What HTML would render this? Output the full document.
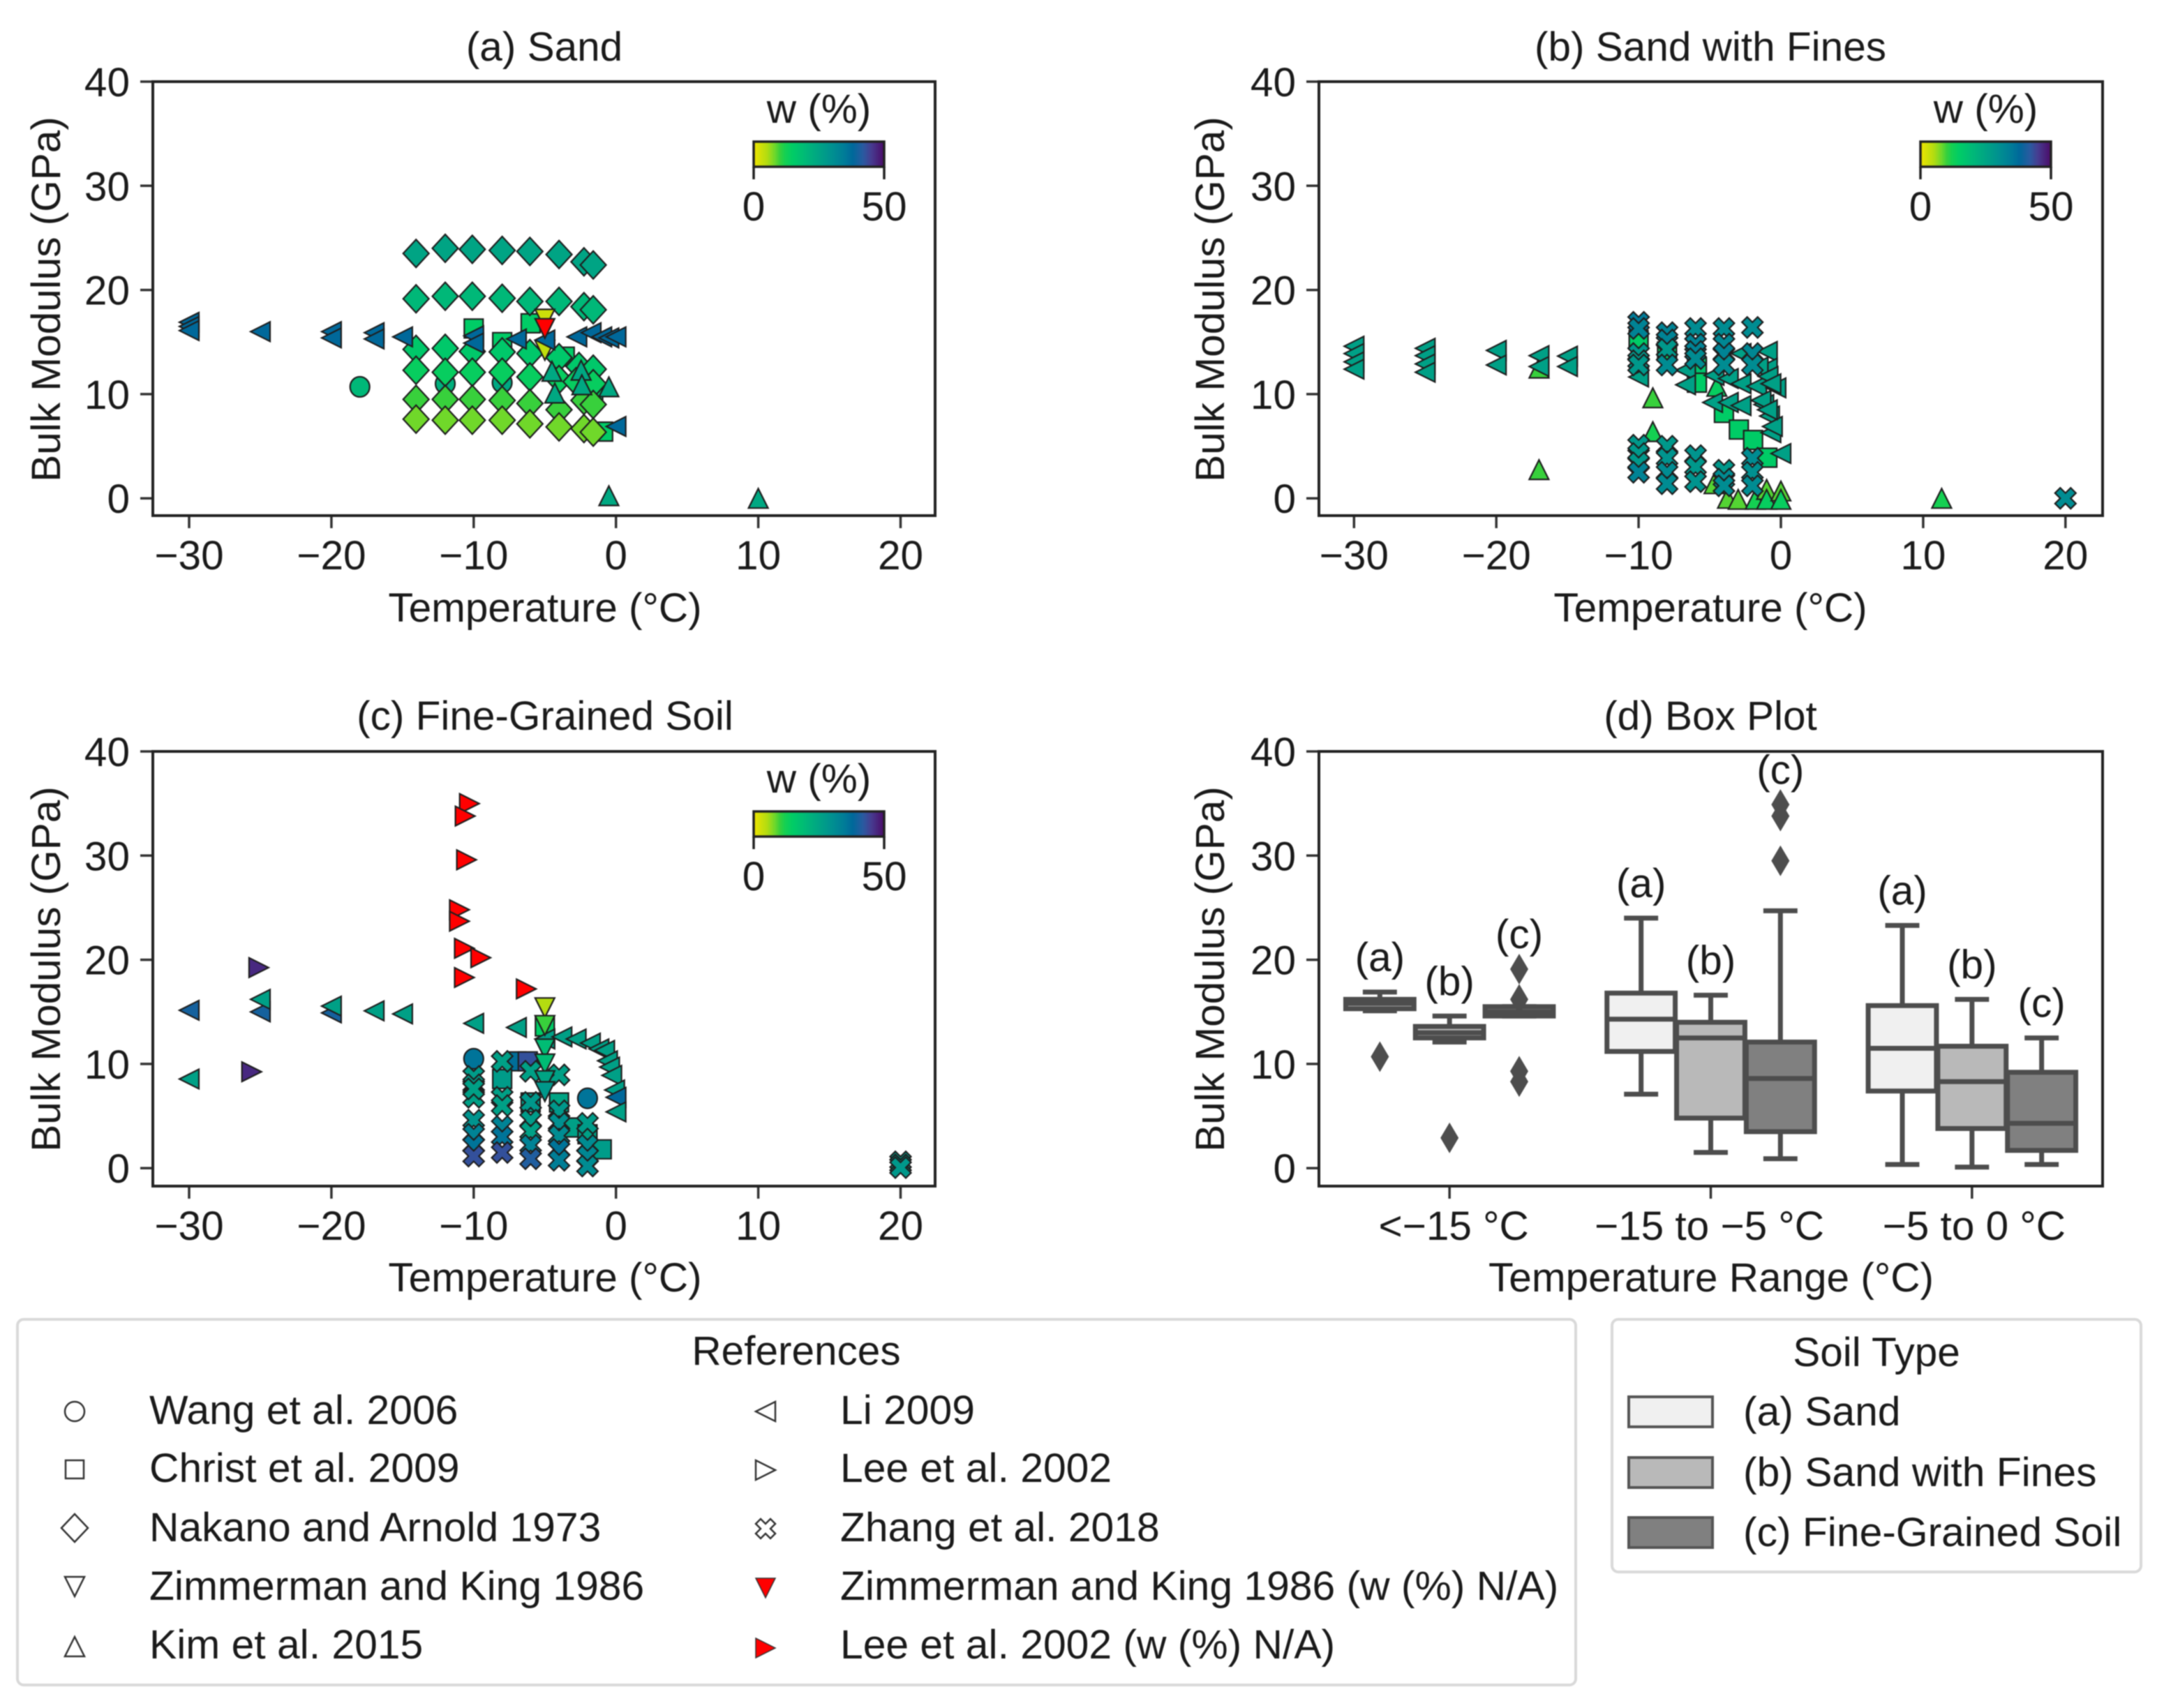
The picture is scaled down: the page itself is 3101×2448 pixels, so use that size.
<!DOCTYPE html>
<html lang="en">
<head>
<meta charset="utf-8">
<title>Bulk modulus versus temperature</title>
<style>
html,body{margin:0;padding:0;background:#fff;}
svg{display:block;filter:blur(0.7px);}
text{font-family:"Liberation Sans",sans-serif;font-size:58.5px;fill:#1a1a1a;}
.legend-text{font-size:58.8px;}
</style>
</head>
<body>
<svg id="figure" width="3101" height="2448" viewBox="0 0 3101 2448" xmlns="http://www.w3.org/2000/svg">
<rect x="0" y="0" width="3101" height="2448" fill="#ffffff"/>

<text x="780" y="87" text-anchor="middle">(a) Sand</text>
<text x="2451" y="87" text-anchor="middle">(b) Sand with Fines</text>
<text x="781" y="1046" text-anchor="middle">(c) Fine-Grained Soil</text>
<text x="2451" y="1046" text-anchor="middle">(d) Box Plot</text>

<text x="781" y="891" text-anchor="middle">Temperature (°C)</text>
<text x="2451" y="891" text-anchor="middle">Temperature (°C)</text>
<text x="781" y="1851" text-anchor="middle">Temperature (°C)</text>
<text x="2452" y="1851" text-anchor="middle">Temperature Range (°C)</text>

<text transform="translate(86,429) rotate(-90)" text-anchor="middle">Bulk Modulus (GPa)</text>
<text transform="translate(1754,429) rotate(-90)" text-anchor="middle">Bulk Modulus (GPa)</text>
<text transform="translate(86,1389) rotate(-90)" text-anchor="middle">Bulk Modulus (GPa)</text>
<text transform="translate(1754,1389) rotate(-90)" text-anchor="middle">Bulk Modulus (GPa)</text>

<g id="plots"></g>

<g>
  <rect x="25" y="1891" width="2233" height="524" rx="9" fill="#ffffff" stroke="#d9d9d9" stroke-width="4"/>
  <text x="1141" y="1956" text-anchor="middle">References</text>
  <g fill="none" stroke="#333333" stroke-width="2.5" transform="translate(0,-6)">
    <circle cx="107" cy="2029" r="14"/>
    <rect x="94" y="2099" width="26" height="26"/>
    <polygon points="107,2176 126,2196 107,2216 88,2196"/>
    <polygon points="93,2266 121,2266 107,2294"/>
    <polygon points="107,2352 121,2380 93,2380"/>
  </g>
  <g fill="none" stroke="#333333" stroke-width="2.5" transform="translate(-4,-6)">
    <polygon points="1087,2029 1115,2015 1115,2043"/>
    <polygon points="1115,2113 1087,2099 1087,2127"/>
    <polygon points="1087,2190 1094,2183 1101,2190 1108,2183 1115,2190 1108,2197 1115,2204 1108,2211 1101,2204 1094,2211 1087,2204 1094,2197"/>
  </g>
  <polygon points="1083,2262 1111,2262 1097,2290" fill="#ff0000" stroke="#333333" stroke-width="1.5"/>
  <polygon points="1111,2362 1083,2348 1083,2376" fill="#ff0000" stroke="#333333" stroke-width="1.5"/>
  <text class="legend-text" x="214" y="2041">Wang et al. 2006</text>
  <text class="legend-text" x="214" y="2124">Christ et al. 2009</text>
  <text class="legend-text" x="214" y="2209">Nakano and Arnold 1973</text>
  <text class="legend-text" x="214" y="2293">Zimmerman and King 1986</text>
  <text class="legend-text" x="214" y="2377">Kim et al. 2015</text>
  <text class="legend-text" x="1204" y="2041">Li 2009</text>
  <text class="legend-text" x="1204" y="2124">Lee et al. 2002</text>
  <text class="legend-text" x="1204" y="2209">Zhang et al. 2018</text>
  <text class="legend-text" x="1204" y="2293">Zimmerman and King 1986 (w (%) N/A)</text>
  <text class="legend-text" x="1204" y="2377">Lee et al. 2002 (w (%) N/A)</text>
</g>

<g>
  <rect x="2310" y="1891" width="758" height="362" rx="9" fill="#ffffff" stroke="#d9d9d9" stroke-width="4"/>
  <text x="2689" y="1958" text-anchor="middle">Soil Type</text>
  <rect x="2334" y="2002" width="120" height="43" fill="#f0f0f0" stroke="#555555" stroke-width="4"/>
  <rect x="2334" y="2089" width="120" height="43" fill="#b9b9b9" stroke="#555555" stroke-width="4"/>
  <rect x="2334" y="2175" width="120" height="43" fill="#808080" stroke="#555555" stroke-width="4"/>
  <text class="legend-text" x="2498" y="2043">(a) Sand</text>
  <text class="legend-text" x="2498" y="2130">(b) Sand with Fines</text>
  <text class="legend-text" x="2498" y="2216">(c) Fine-Grained Soil</text>
</g>
</svg>

<script>
/* ---------- axis tick labels ---------- */
const xTickValues = [-30, -20, -10, 0, 10, 20];
const xTickLabels = ["\u221230", "\u221220", "\u221210", "0", "10", "20"];
const yTickValues = [0, 10, 20, 30, 40];
const yTickLabels = ["0", "10", "20", "30", "40"];
const colorbarTickValues = [0, 50];
const colorbarTickLabels = ["0", "50"];

/* ---------- moisture colour scale (w %, colour) ---------- */
const colorW = [0, 5, 8, 10, 12, 15, 20, 25, 30, 35, 38, 42, 45, 50];
const colorHex = ["#f0e400", "#b4dc10", "#70d82a", "#38d03c", "#14d052", "#00cc66", "#00b878", "#00a484", "#009090", "#007a98", "#00689a", "#2a5aa0", "#463c90", "#4b0a68"];

/* ---------- panel (a) Sand ---------- */
const sandChristT = [-10, -6, -8, -0.9, -3.6, -1.6];
const sandChristV = [16.3, 16.8, 15, 6.4, 13.6, 10.3];
const sandChristW = [15, 15, 15, 15, 15, 15];
const sandWangT = [-18, -12, -8];
const sandWangV = [10.7, 11, 11.1];
const sandWangW = [20, 22, 24];
const sandNakanoT = [-14.05,-12,-10.1,-8,-6.05,-4,-2.25,-1.6, -14.05,-12,-10.1,-8,-6.05,-4,-2.25,-1.6, -14.05,-12,-10.1,-8,-6.05,-4,-2.6,-1.6, -14.05,-12,-10.1,-8,-6.05,-4,-2.8,-1.6, -14.05,-12,-10.1,-8,-6.05,-4,-2.25,-1.6, -14.05,-12,-10.1,-8,-6.05,-4,-2.25,-1.6];
const sandNakanoV = [23.5,24,23.9,23.8,23.7,23.4,22.7,22.4, 19.15,19.4,19.4,19.2,18.9,18.9,18.4,18.1, 14.3,14.4,14.1,14.05,13.9,13.5,12.65,12.4, 12.3,12.1,12.1,12.1,11.65,11.4,11.2,11, 9.5,9.5,9.5,9.4,9.1,8.5,9.4,9, 7.6,7.5,7.5,7.5,7.15,6.85,6.7,6.35];
const sandNakanoW = [25,25,25,25,25,25,25,25, 20,20,20,20,20,20,20,20, 16,16,16,16,16,16,16,16, 14,14,14,14,14,14,14,14, 10,10,10,10,10,10,10,10, 8,8,8,8,8,8,8,8];
const sandZimT = [-5, -5];
const sandZimV = [17.2, 14.2];
const sandZimW = [3, 4];
const sandKimT = [-4.5, -4.3, -2.45, -2.4, -0.5, -0.5, 10];
const sandKimV = [12.2, 10.1, 12.3, 10.9, 10.7, 0.25, 0];
const sandKimW = [24, 24, 24, 24, 24, 24, 24];
const sandLiT = [-30,-30,-30,-25,-20,-20,-17,-17,-15,-10,-10,-7,-5,-2.75,-1.75,-1,-0.5,0,0];
const sandLiV = [16.9,16.5,16.1,16,16,15.4,15.9,15.3,15.5,15.6,14.9,15.3,15.2,15.5,15.9,15.5,15.4,15.5,6.9];
const sandLiW = [38,38,38,38,38,38,38,38,38,38,38,38,38,38,38,38,38,38,38];
const sandZimNaT = [-5];
const sandZimNaV = [16.3];

/* ---------- panel (b) Sand with Fines ---------- */
const finesChristT = [-10, -8, -5.9, -5.9, -4, -2.95, -1.95, -0.95];
const finesChristV = [15.2, 14.1, 12.6, 11.1, 8.2, 6.6, 5.6, 3.9];
const finesChristW = [15, 15, 17, 15, 15, 15, 15, 15];
const finesKimT = [-17, -4.5, -9, -9, -17, -4.7, -3.75, -3, -1.8, -1, -1, 0, 0, 11.3];
const finesKimV = [12.5, 10.75, 9.65, 6.4, 2.75, 1.4, 0, -0.1, -0.1, 0.85, -0.1, 0.7, -0.1, 0];
const finesKimW = [10, 14, 10, 12, 10, 9, 9, 9, 12, 9, 14, 9, 14, 12];
const finesLiT = [-30,-30,-30,-30,-25,-25,-25,-25,-20,-20,-17,-17,-15,-15,-10,-6.7,-6.7,-4.8,-3.7,-2.8,-4.7,-3.7,-2.8,-1.7,-0.95,-0.95,-0.35,-1.2,-0.8,-0.7,0,-2.8,-1.6,-1.4,-0.9,-0.7,-0.6,-0.95];
const finesLiV = [14.6,13.9,13.1,12.4,14.4,13.7,12.9,12.1,14.2,12.8,13.7,12.65,13.65,12.65,11.65,12.3,10.9,9.2,9.2,8.9,11.8,11.5,11,10.75,14.1,12.5,10.6,9,7.9,6.3,4.3,13.9,12.6,9.4,11.7,11,6.9,8.5];
const finesLiW = [26,26,26,26,26,26,26,26,26,26,26,26,26,26,26,26,26,26,26,26,26,26,26,26,26,26,26,26,26,26,26,26,26,26,26,26,26,26];
const finesZhangT = [-10,-10,-10,-10,-10,-10,-10,-10,-10, -8,-8,-8,-8,-8,-8,-8,-8, -6,-6,-6,-6,-6,-6,-6, -4,-4,-4,-4,-4,-4,-4, -2,-2,-2,-2,-2,-2, 20];
const finesZhangV = [16.9,16.3,13.9,13.2,12.8,5.1,4.3,3.4,2.5, 15.9,15.2,14.3,12.8,5,3.85,2.5,1.4, 16.3,14.8,14.1,13.4,4.1,3,1.6, 16.3,14.8,13.9,12.8,2.7,1.85,1.2, 16.4,13.9,12.8,3.85,2.5,1.2, 0];
const finesZhangW = [35,33,28,28,28,28,28,28,33, 33,33,28,31,28,29,31,31, 31,33,33,31,29,28,29, 31,32,33,31,28,31,31, 31,32,31,31,30,31, 31];

/* ---------- panel (c) Fine-Grained Soil ---------- */
const fineWangT = [-10, -2];
const fineWangV = [10.5, 6.7];
const fineWangW = [36, 36];
const fineChristT = [-7, -6.2, -8, -5, -6, -4, -3, -2, -1];
const fineChristV = [10.25, 10.25, 8.55, 13.6, 6.3, 6.3, 3.9, 3.25, 1.8];
const fineChristW = [37, 43, 27, 15, 27, 25, 26, 26, 27];
const fineZimT = [-5, -5, -5, -5, -5, -5];
const fineZimV = [15.4, 13.7, 11.45, 10, 8.4, 7.35];
const fineZimW = [5, 10, 19, 19, 25, 28];
const fineLiT = [-30,-30,-25,-25,-20,-20,-17,-15,-10,-7,-5,-3.8,-2.8,-1.8,-1.2,-0.8,-0.6,-0.45,-0.3,-0.1,0,0];
const fineLiV = [8.55,15.15,15,16.2,14.9,15.55,15.1,14.8,13.9,13.5,12.4,12.6,12.4,12,11.45,11.3,10.3,9.7,8.9,7.5,6.8,5.4];
const fineLiW = [26,40,40,26,40,26,26,26,26,26,26,26,26,26,26,26,26,26,26,26,38,26];
const fineLeeT = [-25.1, -25.6];
const fineLeeV = [19.25, 9.25];
const fineLeeW = [47, 47];
const fineZhangT = [-10,-10,-10,-10,-10,-10,-10,-10, -8,-8,-8,-8,-8,-8, -6,-6,-6,-6,-6,-6, -4,-4,-4,-4,-4,-4, -2,-2,-2,-2, 20,20,20];
const fineZhangV = [8.8,8,6.8,4.6,3.25,2.2,1.15,7.6, 10.25,6.8,6,4,3,1.5, 9.3,6.3,4.6,3.5,2.2,0.9, 8.95,5.5,4.3,3.1,1.8,0.75, 4.3,2.2,1.15,0.2, 0.6,0.3,0.05];
const fineZhangW = [27,27,26,29,33,36,43,26, 26,26,26,33,36,43, 26,28,27,26,33,41, 26,28,30,31,36,34, 27,31,32,31, 27,28,28];
const fineLeeNaT = [-10.3,-10.6,-10.5,-11,-11,-10.65,-9.5,-10.65,-6.3];
const fineLeeNaV = [35,33.8,29.6,24.8,23.7,21.1,20.2,18.3,17.2];

/* ---------- panel (d) Box Plot ---------- */
const boxCategories = ["<\u221215 \u00b0C", "\u221215 to \u22125 \u00b0C", "\u22125 to 0 \u00b0C"];
const boxHueLabels = ["(a)", "(b)", "(c)"];
const boxHueFill = ["#f0f0f0", "#b9b9b9", "#808080"];
const boxWhiskerLow = [[15.1, 12.1, 14.6], [7.1, 1.5, 0.9], [0.35, 0.1, 0.35]];
const boxQ1 = [[15.3, 12.5, 14.6], [11.2, 4.8, 3.5], [7.4, 3.8, 1.7]];
const boxMedian = [[15.8, 13, 15], [14.3, 12.5, 8.6], [11.5, 8.3, 4.3]];
const boxQ3 = [[16.2, 13.6, 15.5], [16.8, 14, 12.1], [15.6, 11.7, 9.2]];
const boxWhiskerHigh = [[16.9, 14.6, 15.5], [24, 16.6, 24.7], [23.3, 16.2, 12.5]];
const boxFliers = [[[10.7], [2.9], [19.1, 16.2, 9.3, 8.3]], [[], [], [34.9, 33.8, 29.5]], [[], [], []]];

/* ---------- drawing ---------- */
const SVGNS = "http://www.w3.org/2000/svg";
const layer = document.getElementById("plots");
const NAFILL = "#ff0000";
const PX_PER_DEG = 20.39;
const PX_PER_GPA = 14.93;

function el(parent, tag, attrs) {
  const node = document.createElementNS(SVGNS, tag);
  for (const k in attrs) node.setAttribute(k, attrs[k]);
  parent.appendChild(node);
  return node;
}

function hexRgb(h) {
  return [parseInt(h.slice(1, 3), 16), parseInt(h.slice(3, 5), 16), parseInt(h.slice(5, 7), 16)];
}

function colorFor(w) {
  if (w <= colorW[0]) return colorHex[0];
  for (let i = 1; i < colorW.length; i++) {
    if (w <= colorW[i]) {
      const t = (w - colorW[i - 1]) / (colorW[i] - colorW[i - 1]);
      const a = hexRgb(colorHex[i - 1]);
      const b = hexRgb(colorHex[i]);
      return "rgb(" + a.map(function (v, j) { return Math.round(v + (b[j] - v) * t); }).join(",") + ")";
    }
  }
  return colorHex[colorHex.length - 1];
}

function makeAxes(id, left, right, top, bottom, zeroX) {
  const group = el(layer, "g", {});
  
  
  return {
    id: id, group: group, left: left, right: right, top: top, bottom: bottom,
    x: function (t) { return zeroX + PX_PER_DEG * t; },
    y: function (v) { return top + (40 - v) * PX_PER_GPA; }
  };
}

function drawYAxis(ax) {
  yTickValues.forEach(function (v, i) {
    const py = ax.y(v);
    const tick = el(ax.group, "line", { x1: ax.left - 18, x2: ax.left, y1: py, y2: py, stroke: "#333", "stroke-width": 3.5 });
    
    
    const label = el(ax.group, "text", { x: ax.left - 33, y: py + 21, "text-anchor": "end" });
    label.textContent = yTickLabels[i];
    
    
  });
}

function drawXAxis(ax) {
  xTickValues.forEach(function (v, i) {
    const px = ax.x(v);
    const tick = el(ax.group, "line", { x1: px, x2: px, y1: ax.bottom, y2: ax.bottom + 18, stroke: "#333", "stroke-width": 3.5 });
    
    
    const label = el(ax.group, "text", { x: px, y: ax.bottom + 77, "text-anchor": "middle" });
    label.textContent = xTickLabels[i];
    
    
  });
}

function drawFrame(ax) {
  const frame = el(ax.group, "rect", { x: ax.left, y: ax.top, width: ax.right - ax.left, height: ax.bottom - ax.top, fill: "none", stroke: "#222", "stroke-width": 4 });
  
  
}

function shapePoints(kind, cx, cy) {
  const r = 14;
  const s = 15;
  const p = {
    diamond: [[0, -20], [18.5, 0], [0, 20], [-18.5, 0]],
    square: [[-13.5, -13.5], [13.5, -13.5], [13.5, 13.5], [-13.5, 13.5]],
    left: [[-r, 0], [r, -r], [r, r]],
    right: [[r, 0], [-r, -r], [-r, r]],
    up: [[0, -r], [r, r], [-r, r]],
    down: [[-r, -r], [r, -r], [0, r]],
    x: [[-s, -s / 2], [-s / 2, -s], [0, -s / 2], [s / 2, -s], [s, -s / 2], [s / 2, 0], [s, s / 2], [s / 2, s], [0, s / 2], [-s / 2, s], [-s, s / 2], [-s / 2, 0]]
  }[kind];
  return p.map(function (q) { return (cx + q[0]).toFixed(1) + "," + (cy + q[1]).toFixed(1); }).join(" ");
}

function drawSeries(ax, name, kind, temps, values, weights, fixedFill) {
  const group = el(ax.group, "g", { stroke: "#1e1e1e", "stroke-width": 2.2 });
  
  
  temps.forEach(function (t, i) {
    const cx = ax.x(t);
    const cy = ax.y(values[i]);
    const fill = fixedFill || colorFor(weights[i]);
    let m;
    if (kind === "circle") {
      m = el(group, "ellipse", { cx: cx, cy: cy, rx: 14, ry: 14.5, fill: fill });
    } else {
      m = el(group, "polygon", { points: shapePoints(kind, cx, cy), fill: fill });
    }
    
    
  });
}

function drawColorbar(ax, x0, x1, y0, y1) {
  const group = el(ax.group, "g", {});
  
  
  const gradId = "grad-" + ax.id;
  const defs = el(group, "defs", {});
  const grad = el(defs, "linearGradient", { id: gradId, x1: 0, x2: 1, y1: 0, y2: 0 });
  colorW.forEach(function (w, i) {
    el(grad, "stop", { offset: (w / 50 * 100) + "%", "stop-color": colorHex[i] });
  });
  const bar = el(group, "rect", { x: x0, y: y0, width: x1 - x0, height: y1 - y0, fill: "url(#" + gradId + ")", stroke: "#222", "stroke-width": 3.5 });
  
  
  colorbarTickValues.forEach(function (w, i) {
    const px = x0 + (x1 - x0) * w / 50;
    const tick = el(group, "line", { x1: px, x2: px, y1: y1, y2: y1 + 18, stroke: "#222", "stroke-width": 3.5 });
    
    
    const label = el(group, "text", { x: px, y: y1 + 77, "text-anchor": "middle" });
    label.textContent = colorbarTickLabels[i];
    
    
  });
  const title = el(group, "text", { x: (x0 + x1) / 2, y: y0 - 27, "text-anchor": "middle" });
  title.textContent = "w (%)";
  
  
}

/* panel a */
const axA = makeAxes("a", 219, 1340, 117, 739, 882.7);
drawYAxis(axA);
drawXAxis(axA);
drawSeries(axA, "wang-2006", "circle", sandWangT, sandWangV, sandWangW);
drawSeries(axA, "christ-2009", "square", sandChristT, sandChristV, sandChristW);
drawSeries(axA, "nakano-1973", "diamond", sandNakanoT, sandNakanoV, sandNakanoW);
drawSeries(axA, "zimmerman-1986", "down", sandZimT, sandZimV, sandZimW);
drawSeries(axA, "kim-2015", "up", sandKimT, sandKimV, sandKimW);
drawSeries(axA, "li-2009", "left", sandLiT, sandLiV, sandLiW);
drawSeries(axA, "zimmerman-1986-na", "down", sandZimNaT, sandZimNaV, [], NAFILL);
drawFrame(axA);
drawColorbar(axA, 1080, 1267, 203, 239);

/* panel b */
const axB = makeAxes("b", 1890, 3013, 117, 739, 2552);
drawYAxis(axB);
drawXAxis(axB);
drawSeries(axB, "christ-2009", "square", finesChristT, finesChristV, finesChristW);
drawSeries(axB, "kim-2015", "up", finesKimT, finesKimV, finesKimW);
drawSeries(axB, "li-2009", "left", finesLiT, finesLiV, finesLiW);
drawSeries(axB, "zhang-2018", "x", finesZhangT, finesZhangV, finesZhangW);
drawFrame(axB);
drawColorbar(axB, 2752, 2939, 203, 239);

/* panel c */
const axC = makeAxes("c", 219, 1340, 1077, 1700, 882.7);
drawYAxis(axC);
drawXAxis(axC);
drawSeries(axC, "wang-2006", "circle", fineWangT, fineWangV, fineWangW);
drawSeries(axC, "christ-2009", "square", fineChristT, fineChristV, fineChristW);
drawSeries(axC, "li-2009", "left", fineLiT, fineLiV, fineLiW);
drawSeries(axC, "lee-2002", "right", fineLeeT, fineLeeV, fineLeeW);
drawSeries(axC, "zhang-2018", "x", fineZhangT, fineZhangV, fineZhangW);
drawSeries(axC, "zimmerman-1986", "down", fineZimT, fineZimV, fineZimW);
drawSeries(axC, "lee-2002-na", "right", fineLeeNaT, fineLeeNaV, [], NAFILL);
drawFrame(axC);
drawColorbar(axC, 1080, 1267, 1163, 1199);

/* panel d */
const axD = makeAxes("d", 1890, 3013, 1077, 1700, 0);
drawYAxis(axD);
const catStep = (axD.right - axD.left) / boxCategories.length;
const hueStep = catStep * 0.8 / boxHueLabels.length;
const GRAY = "#4d4d4d";
const catLabelNudge = [6, -2, 3];
boxCategories.forEach(function (cat, c) {
  const catX = axD.left + catStep * (c + 0.5);
  const tick = el(axD.group, "line", { x1: catX, x2: catX, y1: axD.bottom, y2: axD.bottom + 18, stroke: "#333", "stroke-width": 3.5 });
  
  
  const catLabel = el(axD.group, "text", { x: catX + catLabelNudge[c], y: axD.bottom + 77, "text-anchor": "middle" });
  catLabel.textContent = cat;
  
  
  boxHueLabels.forEach(function (hue, h) {
    const cx = catX + (h - 1) * hueStep;
    const bw = hueStep * 0.98;
    const g = el(axD.group, "g", { stroke: GRAY, "stroke-width": 7 });
    
    
    const yLow = axD.y(boxWhiskerLow[c][h]);
    const yHigh = axD.y(boxWhiskerHigh[c][h]);
    const yQ1 = axD.y(boxQ1[c][h]);
    const yQ3 = axD.y(boxQ3[c][h]);
    const yMed = axD.y(boxMedian[c][h]);
    el(g, "line", { x1: cx, x2: cx, y1: yHigh, y2: yQ3 });
    el(g, "line", { x1: cx, x2: cx, y1: yQ1, y2: yLow });
    el(g, "line", { x1: cx - bw / 4, x2: cx + bw / 4, y1: yHigh, y2: yHigh });
    el(g, "line", { x1: cx - bw / 4, x2: cx + bw / 4, y1: yLow, y2: yLow });
    el(g, "rect", { x: cx - bw / 2, y: yQ3, width: bw, height: yQ1 - yQ3, fill: boxHueFill[h] });
    el(g, "line", { x1: cx - bw / 2, x2: cx + bw / 2, y1: yMed, y2: yMed });
    let topValue = boxWhiskerHigh[c][h];
    boxFliers[c][h].forEach(function (f) {
      topValue = Math.max(topValue, f);
      const fy = axD.y(f);
      const flier = el(g, "polygon", { points: [cx, fy - 22, cx + 13, fy, cx, fy + 22, cx - 13, fy].join(" "), fill: GRAY, stroke: "none" });
      
      
    });
    const ann = el(axD.group, "text", { x: cx, y: axD.y(topValue + 2.0), "text-anchor": "middle" });
    ann.textContent = hue;
    
    
  });
});
drawFrame(axD);
</script>
</body>
</html>
